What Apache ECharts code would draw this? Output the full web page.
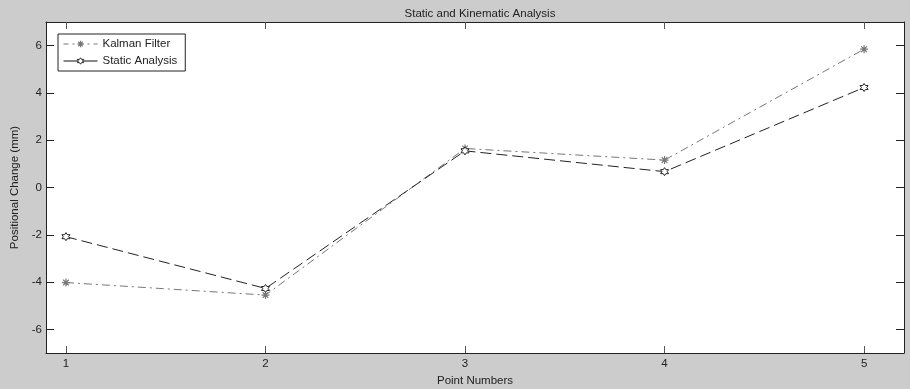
<!DOCTYPE html>
<html>
<head>
<meta charset="utf-8">
<script src="https://cdn.jsdelivr.net/npm/echarts@6/dist/echarts.min.js"></script>
<style>
html,body{margin:0;padding:0;background:#cccccc;}
#chart{width:910px;height:389px;}
</style>
</head>
<body>
<div id="chart"></div>
<script>
var pointNumbers = [1, 2, 3, 4, 5];
var kalmanFilter = [-4.02, -4.55, 1.65, 1.16, 5.85];
var staticAnalysis = [-2.08, -4.27, 1.55, 0.67, 4.23];
var xTicks = [1, 2, 3, 4, 5];
var yTicks = [-6, -4, -2, 0, 2, 4, 6];

var FONT = '"Liberation Sans", Arial, sans-serif';
var asterisk = 'path://M0,5L10,5M5,0L5,10M1.5,1.5L8.5,8.5M8.5,1.5L1.5,8.5';
var hexagram = 'path://M5,0L6.44,2.5L9.33,2.5L7.89,5L9.33,7.5L6.44,7.5L5,10L3.56,7.5L0.67,7.5L2.11,5L0.67,2.5L3.56,2.5Z';

function pairs(xs, ys) { return xs.map(function (x, i) { return [x, ys[i]]; }); }

var chart = echarts.init(document.getElementById('chart'), null, {renderer: 'canvas'});

function xAxisDef(pos, showLabel) {
  return {
    type: 'value', position: pos, min: 0.9, max: 5.2,
    name: showLabel ? 'Point Numbers' : '', nameLocation: 'middle', nameGap: 19,
    nameTextStyle: {fontFamily: FONT, fontSize: 11.5, color: '#222'},
    axisLine: {show: true, onZero: false, lineStyle: {color: '#222', width: 1}},
    axisTick: {show: true, inside: true, length: 7, customValues: xTicks, lineStyle: {color: '#555'}},
    axisLabel: {show: showLabel, customValues: xTicks, margin: 5, fontFamily: FONT, fontSize: 11.5, color: '#222'},
    splitLine: {show: false}
  };
}
function yAxisDef(pos, showLabel) {
  return {
    type: 'value', position: pos, min: -7, max: 7,
    name: showLabel ? 'Positional Change (mm)' : '', nameLocation: 'middle', nameGap: 22,
    nameTextStyle: {fontFamily: FONT, fontSize: 11.5, color: '#222'},
    axisLine: {show: true, onZero: false, lineStyle: {color: '#222', width: 1}},
    axisTick: {show: true, inside: true, length: 8, customValues: yTicks, lineStyle: {color: '#222'}},
    axisLabel: {show: showLabel, customValues: yTicks, margin: 4, fontFamily: FONT, fontSize: 11.5, color: '#222'},
    splitLine: {show: false}
  };
}

chart.setOption({
  backgroundColor: '#cccccc',
  animation: false,
  title: {
    text: 'Static and Kinematic Analysis', left: 475, textAlign: 'center', top: 3,
    textStyle: {fontFamily: FONT, fontSize: 11.5, fontWeight: 'normal', color: '#222'}
  },
  legend: {
    orient: 'vertical', left: 58, top: 34,
    backgroundColor: '#ffffff', borderColor: '#222', borderWidth: 1,
    padding: [4, 8, 4, 5], itemGap: 5, itemWidth: 34, itemHeight: 8,
    textStyle: {fontFamily: FONT, fontSize: 11.5, color: '#222'},
    data: [
      {name: 'Kalman Filter',
       itemStyle: {color: 'rgba(0,0,0,0)', borderColor: '#777', borderWidth: 1.2},
       lineStyle: {type: [5, 4, 2, 4], color: '#777', width: 1}},
      {name: 'Static Analysis',
       itemStyle: {color: '#ffffff', borderColor: '#222', borderWidth: 1},
       lineStyle: {type: 'solid', color: '#111', width: 1}}
    ]
  },
  grid: {left: 46, top: 22, right: 6, bottom: 36, show: true, backgroundColor: '#ffffff', borderWidth: 0,
         containLabel: false, outerBoundsMode: 'none'},
  xAxis: [xAxisDef('bottom', true), xAxisDef('top', false)],
  yAxis: [yAxisDef('left', true), yAxisDef('right', false)],
  series: [
    {
      name: 'Kalman Filter', type: 'line', data: pairs(pointNumbers, kalmanFilter),
      symbol: asterisk, symbolSize: 8,
      itemStyle: {color: 'rgba(0,0,0,0)', borderColor: '#777', borderWidth: 1.2},
      lineStyle: {color: '#777', width: 1, type: [8, 4, 2, 4]}
    },
    {
      name: 'Static Analysis', type: 'line', data: pairs(pointNumbers, staticAnalysis),
      symbol: hexagram, symbolSize: 8,
      itemStyle: {color: '#ffffff', borderColor: '#222', borderWidth: 1},
      lineStyle: {color: '#222', width: 1, type: [11, 5]}
    }
  ]
});
</script>
</body>
</html>
